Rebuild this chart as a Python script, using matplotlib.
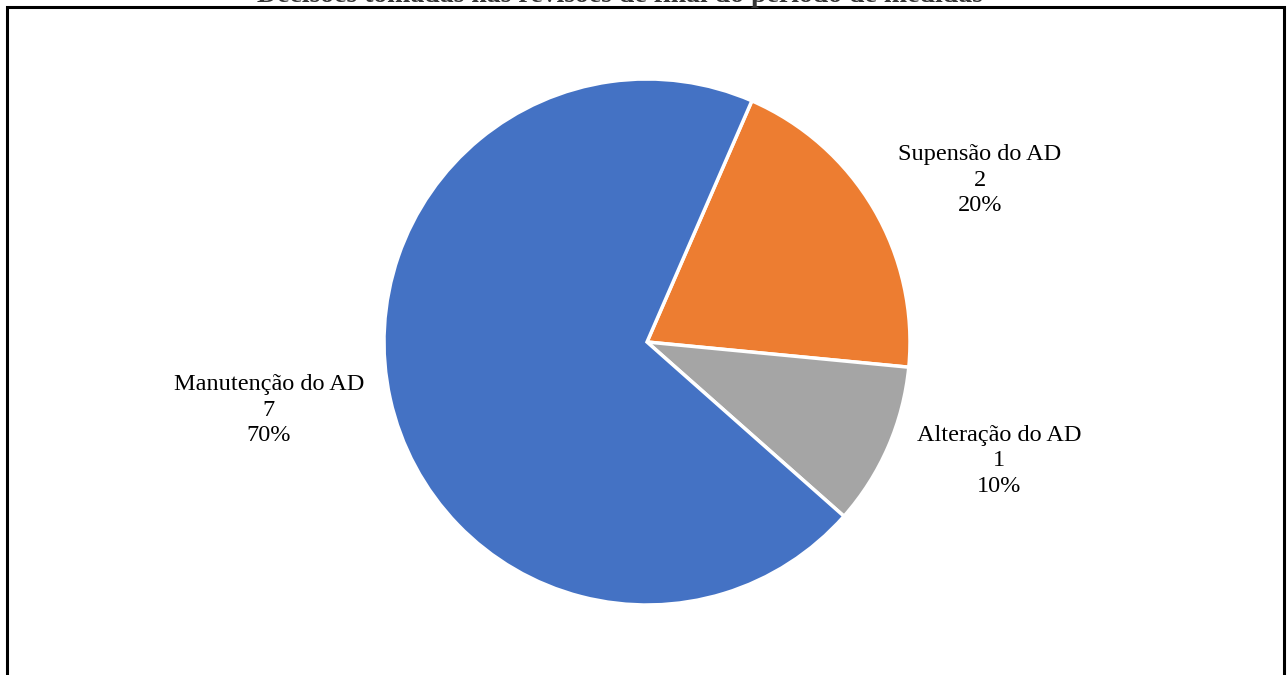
import matplotlib.pyplot as plt
from matplotlib.patches import Rectangle

# decisões tomadas (ordem no sentido horário)
labels = ['Supensão do AD', 'Alteração do AD', 'Manutenção do AD']
values = [2, 1, 7]
colors = ['#ED7D31', '#A5A5A5', '#4472C4']
title = 'Decisões tomadas nas revisões de final do período de medidas'

W, H = 1287, 675
fig = plt.figure(figsize=(W / 100, H / 100), dpi=100)
ax = fig.add_axes([0, 0, 1, 1])

ax.pie(values, colors=colors, startangle=66.5, counterclock=False,
       center=(647, H - 342), radius=263,
       wedgeprops={'edgecolor': 'white', 'linewidth': 2.5}, frame=True)
ax.set_xlim(0, W)
ax.set_ylim(0, H)
ax.set_aspect('equal')
ax.axis('off')

total = sum(values)
label_pos = [(980, 180), (999, 461), (269, 410)]
for lab, v, (x, y) in zip(labels, values, label_pos):
    ax.text(x, H - y, f'{lab}\n{v}\n{v / total:.0%}', ha='center', va='center',
            family='Liberation Serif', fontsize=17.5, linespacing=1.3, color='black')

fig.patches.append(Rectangle((7, -10), 1277, H - 7 + 10, transform=None,
                             fill=False, edgecolor='black', linewidth=2.2,
                             figure=fig))
# título cortado no topo, como no original
fig.text(620 / W, (H - 2.2) / H, title, ha='center', va='baseline',
         family='Liberation Serif', fontweight='bold', fontsize=20, color='#333333')

fig.savefig('out.png', dpi=100)
